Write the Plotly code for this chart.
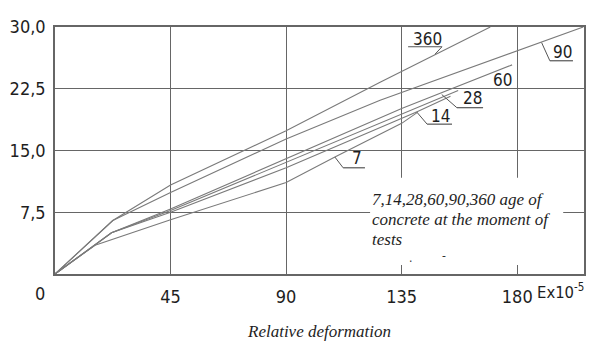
import plotly.graph_objects as go

# ---- data ----
ages = ["7", "14", "28", "60", "90", "360"]
x_7 = [0, 15.6, 45, 90, 109, 135, 141]
y_7 = [0, 3.5, 6.6, 11.1, 14.2, 18.3, 19.6]
x_14 = [0, 22, 45, 90, 141, 154]
y_14 = [0, 5.0, 7.5, 12.9, 19.7, 21.6]
x_28 = [0, 22, 45, 90, 135, 157]
y_28 = [0, 5.0, 7.7, 13.6, 19.5, 22.3]
x_60 = [0, 22, 45, 90, 135, 178]
y_60 = [0, 5.0, 7.9, 14.0, 20.1, 25.4]
x_90 = [0, 22.5, 45, 90, 126.6, 205.7]
y_90 = [0, 6.5, 9.9, 16.4, 21.1, 30.0]
x_360 = [0, 22.5, 45, 90, 126.6, 169.5]
y_360 = [0, 6.5, 10.8, 17.4, 23.3, 30.0]

x_ticks = [45, 90, 135, 180]
x_tick_labels = ["45", "90", "135", "180"]
y_ticks = [7.5, 15, 22.5, 30]
y_tick_labels = ["7,5", "15,0", "22,5", "30,0"]

note_lines = ["7,14,28,60,90,360 age of", "concrete at the moment of", "tests"]

series = {"7": (x_7, y_7), "14": (x_14, y_14), "28": (x_28, y_28),
          "60": (x_60, y_60), "90": (x_90, y_90), "360": (x_360, y_360)}

LINE = "#7a7a7a"
GRID = "#666666"
TXT = "#1e1e1e"
SANS = "DejaVu Sans Condensed"
SERIF = "Liberation Serif"

fig = go.Figure()
for name in ages:
    xs, ys = series[name]
    fig.add_trace(go.Scatter(x=xs, y=ys, mode="lines", name=name,
                             line=dict(color=LINE, width=1.1),
                             showlegend=False, hoverinfo="skip"))

# curve labels: (text, text x, text y, underline x0, x1, y, leader end x, y)
labels = [
    ("360", 144.9, 28.5, 137.5, 150.7, 27.6, 148.0, 26.7, True),
    ("90", 197.8, 27.0, 192.7, 201.7, 25.9, 189.5, 28.1, True),
    ("60", 174.4, 23.6, None, None, None, None, None, False),
    ("28", 162.4, 21.4, 156.5, 166.7, 20.2, 150.6, 21.8, True),
    ("14", 150.3, 19.2, 144.9, 154.6, 18.2, 140.8, 19.7, True),
    ("7", 117.6, 14.1, 112.2, 120.7, 12.9, 109.0, 14.2, True),
]
shapes = []
annotations = []
for txt, tx, ty, u0, u1, uy, lx, ly, has in labels:
    annotations.append(dict(x=tx, y=ty, text=txt, showarrow=False,
                            font=dict(family=SANS, size=17, color=TXT),
                            xanchor="center", yanchor="middle"))
    if has:
        start = u0 if abs(u0 - lx) < abs(u1 - lx) else u1
        shapes.append(dict(type="line", x0=u0, x1=u1, y0=uy, y1=uy,
                           line=dict(color="#555", width=1.2), layer="above"))
        shapes.append(dict(type="line", x0=start, x1=lx, y0=uy, y1=ly,
                           line=dict(color="#555", width=1.0), layer="above"))

# white legend box
shapes.append(dict(type="rect", x0=122.7, x1=197.9, y0=1.1, y1=11.7,
                   fillcolor="white", line=dict(width=0), layer="above"))
for i, ln in enumerate(note_lines):
    annotations.append(dict(x=122.6, y=9.0 - 2.43 * i, xanchor="left",
                            yanchor="middle", showarrow=False,
                            text="<i>" + ln + "</i>",
                            font=dict(family=SERIF, size=17, color=TXT)))
annotations.append(dict(x=138.3, y=2.0, text=".", showarrow=False,
                        font=dict(family=SANS, size=12, color="#333")))
annotations.append(dict(x=151.5, y=2.2, text="-", showarrow=False,
                        font=dict(family=SANS, size=12, color="#333")))

# "0" origin label, unit and axis title
annotations.append(dict(xref="x domain", yref="y domain", x=-0.028, y=-0.078,
                        xanchor="center", yanchor="middle", showarrow=False,
                        text="0", font=dict(family=SANS, size=18, color=TXT)))
annotations.append(dict(xref="paper", yref="y domain", x=1.004, y=-0.07,
                        xanchor="right", yanchor="middle", showarrow=False,
                        text="Ex10<sup>-5</sup>",
                        font=dict(family=SANS, size=16.5, color=TXT)))
annotations.append(dict(xref="paper", yref="paper", x=0.499, y=-0.232,
                        xanchor="center", yanchor="middle", showarrow=False,
                        borderpad=0,
                        text="<i>Relative deformation</i>",
                        font=dict(family=SERIF, size=17, color=TXT)))

fig.update_layout(
    width=589, height=341,
    margin=dict(l=55, r=5, t=27, b=67, autoexpand=False),
    paper_bgcolor="white", plot_bgcolor="white",
    shapes=shapes, annotations=annotations,
    xaxis=dict(range=[0, 206], tickvals=x_ticks, ticktext=x_tick_labels,
               automargin=False,
               showgrid=True, gridcolor=GRID, gridwidth=1.3,
               showline=True, linecolor=GRID, linewidth=1.5, mirror=True,
               zeroline=False, ticks="", ticklabelstandoff=6,
               tickfont=dict(family=SANS, size=18, color=TXT)),
    yaxis=dict(range=[0, 30], tickvals=y_ticks, ticktext=y_tick_labels,
               automargin=False,
               showgrid=True, gridcolor=GRID, gridwidth=1.3,
               showline=True, linecolor=GRID, linewidth=1.5, mirror=True,
               zeroline=False, ticks="", ticklabelstandoff=4,
               tickfont=dict(family=SANS, size=18, color=TXT)),
)

fig.write_html("out.html", config={"displayModeBar": False},
               post_script="document.body.style.margin='0';document.body.style.overflow='hidden';")
